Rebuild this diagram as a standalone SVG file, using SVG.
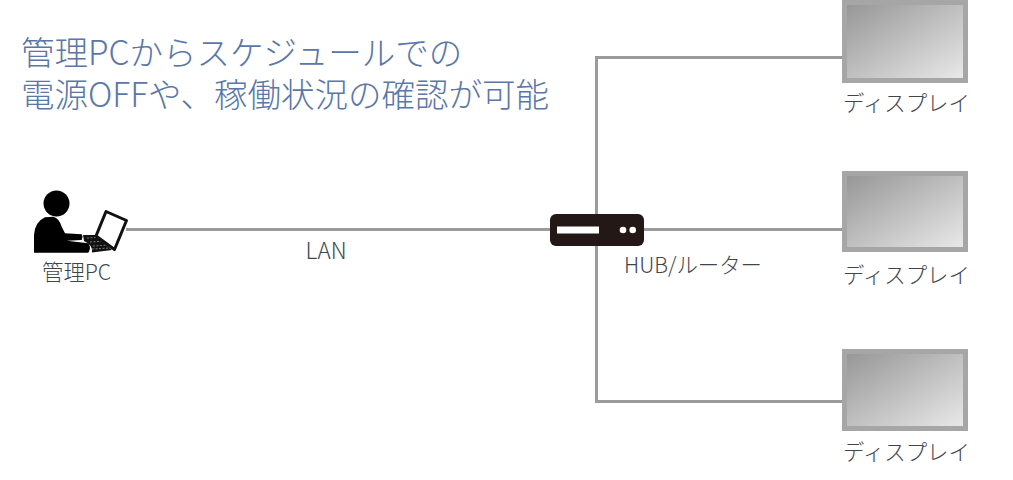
<svg xmlns="http://www.w3.org/2000/svg" width="1013" height="480" viewBox="0 0 1013 480">
<style>
text{font-family:"Noto Sans CJK JP","Noto Sans",sans-serif;font-weight:300}
.t{font-size:33.5px;fill:#5a77a8}
.l{font-size:21.4px;fill:#3f454b}
.w{fill:none;stroke:#9b9b9b;stroke-width:3}
.f{fill:#a6a6a6}
.s{fill:url(#g)}
</style>
<defs>
<linearGradient id="g" x1="0" y1="0" x2="1" y2="1">
<stop offset="0" stop-color="#979797"/>
<stop offset="1" stop-color="#e8e8e8"/>
</linearGradient>
</defs>
<rect width="1013" height="480" fill="#fff"/>
<g id="title">
<text class="t"><tspan x="21" y="65">管理PCからスケジュールでの</tspan><tspan x="21" y="107">電源OFFや、稼働状況の確認が可能</tspan></text>
</g>
<g id="connectors">
<path class="w" d="M126 229.500H843"/>
<path class="w" d="M843 57.500H596.500V401.500H843"/>
</g>
<g id="pc">
<circle cx="56.500" cy="203.500" r="13" fill="#000"/>
<path d="M34 252.700V235Q35 221.700 45 217.300L53.300 216.700Q59.300 218.300 61.700 226.700L65 233.300L81.700 234.300Q83.300 236.700 81.700 240L66.700 240.700L88.300 243.300Q91.700 248.300 88.300 252.700Z" fill="#000"/>
<path d="M83 235H95L112 250L92 252.500Q93 245 84 241Z" fill="#111"/>
<path d="M87 238L104 237M90 242L107 241M93 246L110 245M92 249L111 248" stroke="#777" stroke-width="1" stroke-dasharray="2 1.500" fill="none"/>
<path d="M106 211.500L126.500 220.500L114.500 249.500L96 236Z" fill="#fff" stroke="#111" stroke-width="3" stroke-linejoin="round"/>
<text class="l" x="42" y="280">管理PC</text>
</g>
<g id="hub">
<rect x="550" y="214" width="94" height="32" rx="6" fill="#231815"/>
<rect x="557" y="226.500" width="42" height="7" fill="#fff"/>
<circle cx="623" cy="230" r="3.300" fill="#fff"/>
<circle cx="632.700" cy="230" r="3.300" fill="#fff"/>
<text class="l" x="624" y="273">HUB/ルーター</text>
</g>
<g id="lan"><text class="l" x="305.500" y="259" style="font-size:22.5px">LAN</text></g>
<g id="display1">
<rect class="f" x="842" y="-1" width="126" height="84"/>
<rect class="s" x="847" y="5" width="116" height="73"/>
<text class="l" x="843" y="111">ディスプレイ</text>
</g>
<g id="display2">
<rect class="f" x="842" y="171" width="126" height="81"/>
<rect class="s" x="847" y="176" width="116" height="71"/>
<text class="l" x="843" y="283">ディスプレイ</text>
</g>
<g id="display3">
<rect class="f" x="842" y="349" width="126" height="82"/>
<rect class="s" x="847" y="354" width="116" height="72"/>
<text class="l" x="843" y="460">ディスプレイ</text>
</g>
</svg>
